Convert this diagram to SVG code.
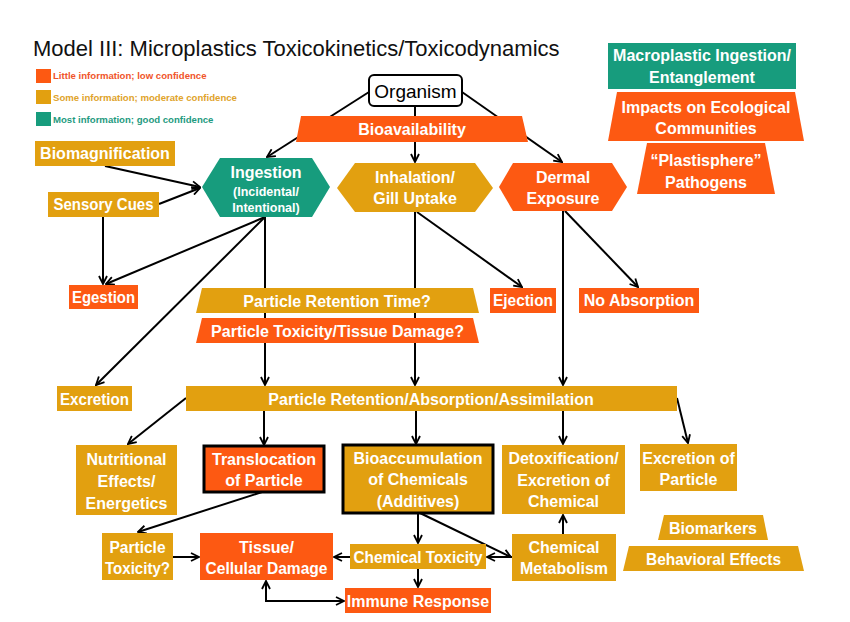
<svg xmlns="http://www.w3.org/2000/svg" width="850" height="622" viewBox="0 0 850 622">
<style>
.o{fill:#FD5912}
.g{fill:#E2A010}
.k{fill:#179C7D}
.t{font-family:"Liberation Sans",Arial,sans-serif;font-weight:bold;font-size:16px;fill:#fff;text-anchor:middle}
.s{font-size:12.5px}
.lg{font-family:"Liberation Sans",Arial,sans-serif;font-weight:bold;font-size:9.6px}
.c line,.c path{stroke:#000;stroke-width:2;fill:none;marker-end:url(#a)}
.bd{stroke:#000;stroke-width:3}
</style>
<defs>
<marker id="a" markerUnits="userSpaceOnUse" markerWidth="10" markerHeight="10" viewBox="0 0 10 10" refX="9" refY="5" orient="auto-start-reverse">
<path d="M1,1 L9,5 L1,9" fill="none" stroke="#000" stroke-width="1.8"/>
</marker>
</defs>
<rect width="850" height="622" fill="#fff"/>
<text x="33" y="56" font-family="Liberation Sans,Arial,sans-serif" font-size="22" fill="#111">Model III: Microplastics Toxicokinetics/Toxicodynamics</text>
<g id="legend">
<rect x="36" y="69" width="15" height="14" class="o"/>
<text x="53" y="79" class="lg" fill="#F0552A">Little information; low confidence</text>
<rect x="36" y="90" width="15" height="14" class="g"/>
<text x="53" y="101" class="lg" fill="#E0A32A">Some information; moderate confidence</text>
<rect x="36" y="112" width="15" height="14" class="k"/>
<text x="53" y="122.5" class="lg" fill="#1E9A80">Most information; good confidence</text>
</g>
<g id="connectors" class="c">
<line x1="369" y1="92" x2="267" y2="157"/>
<line x1="415" y1="106" x2="415" y2="162"/>
<line x1="462" y1="92" x2="562" y2="162"/>
<line x1="105" y1="166" x2="200" y2="187"/>
<line x1="159" y1="204" x2="200" y2="188"/>
<line x1="103" y1="217" x2="103" y2="284"/>
<line x1="265" y1="217" x2="106" y2="284"/>
<line x1="265" y1="217" x2="96" y2="385"/>
<line x1="265" y1="217" x2="265" y2="385"/>
<line x1="415" y1="212" x2="415" y2="385"/>
<line x1="417" y1="212" x2="522" y2="287"/>
<line x1="563" y1="211" x2="563" y2="385"/>
<line x1="565" y1="211" x2="638" y2="287"/>
<line x1="186" y1="398" x2="128" y2="444"/>
<line x1="264" y1="411" x2="264" y2="445"/>
<line x1="416" y1="411" x2="416" y2="444"/>
<line x1="563" y1="411" x2="563" y2="444"/>
<line x1="677" y1="398" x2="688" y2="443"/>
<line x1="262" y1="492" x2="138" y2="532"/>
<line x1="173" y1="557" x2="199" y2="557"/>
<line x1="350" y1="557" x2="334" y2="557"/>
<line x1="418" y1="513" x2="418" y2="543"/>
<line x1="420" y1="513" x2="511" y2="557"/>
<line x1="512" y1="557" x2="487" y2="557"/>
<line x1="563" y1="534" x2="563" y2="515"/>
<line x1="418" y1="569" x2="418" y2="587"/>
<path d="M266,581 V601 H344" style="marker-start:url(#a)"/>
</g>
<g id="organism">
<rect x="369" y="75" width="93" height="31" rx="5" fill="#fff" stroke="#000" stroke-width="2"/>
<text x="415.5" y="98" font-family="Liberation Sans,Arial,sans-serif" font-size="19" text-anchor="middle" fill="#000">Organism</text>
</g>
<g id="bioavailability">
<polygon points="301,116 522,116 528,142 296,142" class="o"/>
<text x="412" y="134.5" class="t">Bioavailability</text>
</g>
<g id="ingestion">
<polygon points="202,187 220,158 312,158 330,187 312,217 220,217" class="k"/>
<text x="266" y="178" class="t">Ingestion</text>
<text x="266" y="195.5" class="t s">(Incidental/</text>
<text x="266" y="211.5" class="t s">Intentional)</text>
</g>
<g id="inhalation">
<polygon points="337,188 355,163 475,163 493,188 475,212 355,212" class="g"/>
<text x="415" y="182.5" class="t">Inhalation/</text>
<text x="415" y="203.5" class="t">Gill Uptake</text>
</g>
<g id="dermal">
<polygon points="499,187 513,163 612,163 627,187 612,211 513,211" class="o"/>
<text x="563" y="182.5" class="t">Dermal</text>
<text x="563" y="203.5" class="t">Exposure</text>
</g>
<g id="macroplastic">
<rect x="608" y="43" width="188" height="46" class="k"/>
<text x="702" y="60.5" class="t">Macroplastic Ingestion/</text>
<text x="702" y="82.5" class="t">Entanglement</text>
</g>
<g id="impacts">
<polygon points="617,92 795,92 804,141 608,141" class="o"/>
<text x="706" y="112.5" class="t">Impacts on Ecological</text>
<text x="706" y="133.5" class="t">Communities</text>
</g>
<g id="plastisphere">
<polygon points="647,143 765,143 775,194 637,194" class="o"/>
<text x="706" y="165.5" class="t">“Plastisphere”</text>
<text x="706" y="187.5" class="t">Pathogens</text>
</g>
<g id="biomagnification">
<rect x="35" y="141" width="140" height="25" class="g"/>
<text x="105" y="158.5" class="t">Biomagnification</text>
</g>
<g id="sensory">
<rect x="48" y="192" width="111" height="25" class="g"/>
<text x="103.5" y="210" class="t" textLength="100" lengthAdjust="spacingAndGlyphs">Sensory Cues</text>
</g>
<g id="egestion">
<rect x="69" y="285" width="69" height="24" class="o"/>
<text x="103.5" y="303" class="t" textLength="63" lengthAdjust="spacingAndGlyphs">Egestion</text>
</g>
<g id="retention-time">
<polygon points="202,288 473,288 479,313 196,313" class="g"/>
<text x="337" y="306.5" class="t">Particle Retention Time?</text>
</g>
<g id="particle-toxicity-damage">
<polygon points="202,318 473,318 479,343 196,343" class="o"/>
<text x="337.5" y="336.5" class="t">Particle Toxicity/Tissue Damage?</text>
</g>
<g id="ejection">
<rect x="490" y="288" width="66" height="25" class="o"/>
<text x="523" y="306" class="t" textLength="60" lengthAdjust="spacingAndGlyphs">Ejection</text>
</g>
<g id="no-absorption">
<rect x="579" y="288" width="120" height="25" class="o"/>
<text x="639" y="306" class="t">No Absorption</text>
</g>
<g id="excretion">
<rect x="57" y="386" width="75" height="25" class="g"/>
<text x="94.5" y="404.5" class="t" textLength="69" lengthAdjust="spacingAndGlyphs">Excretion</text>
</g>
<g id="retention-absorption">
<rect x="186" y="386" width="491" height="25" class="g"/>
<text x="431" y="404.5" class="t">Particle Retention/Absorption/Assimilation</text>
</g>
<g id="nutritional">
<rect x="76" y="445" width="101" height="70" class="g"/>
<text x="126.5" y="464.5" class="t">Nutritional</text>
<text x="126.5" y="486.5" class="t">Effects/</text>
<text x="126.5" y="508.5" class="t">Energetics</text>
</g>
<g id="translocation">
<rect x="204" y="446" width="120" height="46" class="o bd"/>
<text x="264" y="464.5" class="t">Translocation</text>
<text x="264" y="485.5" class="t">of Particle</text>
</g>
<g id="bioaccumulation">
<rect x="343" y="445" width="150" height="68" class="g bd"/>
<text x="418" y="463.5" class="t">Bioaccumulation</text>
<text x="418" y="484.5" class="t">of Chemicals</text>
<text x="418" y="506.5" class="t">(Additives)</text>
</g>
<g id="detoxification">
<rect x="502" y="445" width="123" height="69" class="g"/>
<text x="563.5" y="463.5" class="t">Detoxification/</text>
<text x="563.5" y="485.5" class="t">Excretion of</text>
<text x="563.5" y="506.5" class="t">Chemical</text>
</g>
<g id="excretion-particle">
<rect x="640" y="444" width="97" height="47" class="g"/>
<text x="688.5" y="463.5" class="t">Excretion of</text>
<text x="688.5" y="484.5" class="t">Particle</text>
</g>
<g id="biomarkers">
<polygon points="664,515 763,515 768,540 658,540" class="g"/>
<text x="713" y="533.5" class="t">Biomarkers</text>
</g>
<g id="behavioral">
<polygon points="629,546 798,546 804,571 623,571" class="g"/>
<text x="713.5" y="564.5" class="t" textLength="135" lengthAdjust="spacingAndGlyphs">Behavioral Effects</text>
</g>
<g id="particle-toxicity">
<rect x="102" y="533" width="71" height="47" class="g"/>
<text x="137.5" y="552.5" class="t" textLength="56" lengthAdjust="spacingAndGlyphs">Particle</text>
<text x="137.5" y="573.5" class="t" textLength="65" lengthAdjust="spacingAndGlyphs">Toxicity?</text>
</g>
<g id="tissue">
<rect x="200" y="533" width="133" height="47" class="o"/>
<text x="266.5" y="552.5" class="t">Tissue/</text>
<text x="266.5" y="573.5" class="t" textLength="122" lengthAdjust="spacingAndGlyphs">Cellular Damage</text>
</g>
<g id="chemical-toxicity">
<rect x="350" y="544" width="136" height="25" class="g"/>
<text x="418" y="562.5" class="t" textLength="129" lengthAdjust="spacingAndGlyphs">Chemical Toxicity</text>
</g>
<g id="chemical-metabolism">
<rect x="512" y="534" width="104" height="47" class="g"/>
<text x="564" y="552.5" class="t">Chemical</text>
<text x="564" y="573.5" class="t">Metabolism</text>
</g>
<g id="immune">
<rect x="345" y="588" width="146" height="25" class="o"/>
<text x="418" y="606.5" class="t">Immune Response</text>
</g>
</svg>
